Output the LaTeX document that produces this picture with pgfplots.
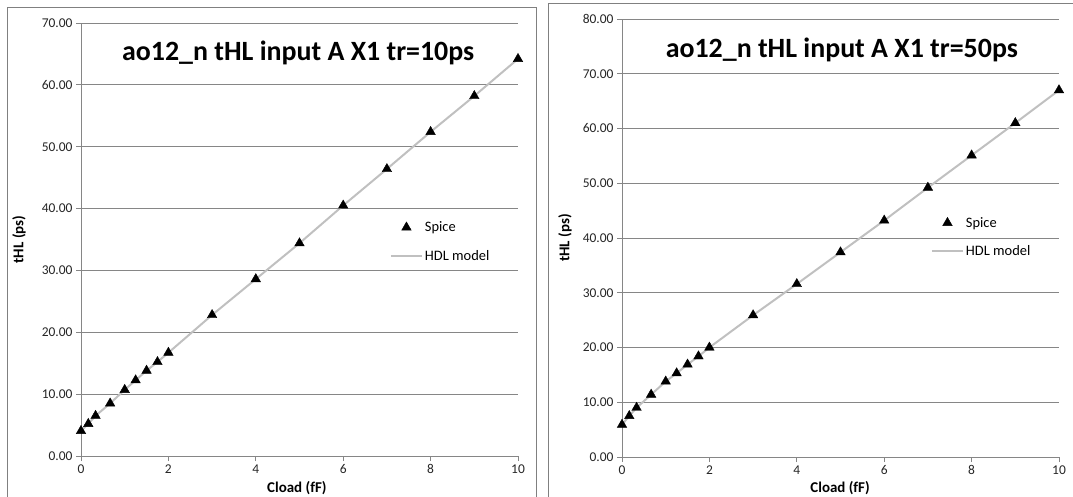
\documentclass[border=0pt]{standalone}
\usepackage{fontspec}
\setmainfont{Carlito}
\usepackage{pgfplots}
\pgfplotsset{compat=1.18}
\pgfplotstableread{
x y
0 4.05
0.1667 5.2
0.3333 6.5
0.6667 8.5
1 10.7
1.25 12.25
1.5 13.8
1.75 15.2
2 16.7
3 22.8
4 28.6
5 34.4
6 40.5
7 46.4
8 52.4
9 58.2
10 64.2
}\dataA
\pgfplotstableread{
x y
0 5.9
0.1667 7.5
0.3333 9.0
0.6667 11.4
1 13.8
1.25 15.3
1.5 16.9
1.75 18.4
2 20.0
3 25.9
4 31.6
5 37.4
6 43.2
7 49.2
8 55.1
9 61.0
10 67.0
}\dataB
\definecolor{gridc}{RGB}{134,134,134}
\definecolor{linec}{RGB}{192,192,192}
\definecolor{framec}{RGB}{128,128,128}
\pgfplotsset{
  spiceleg/.style={legend image code/.code={\path (0bp,0bp) (31bp,0bp); \draw[##1, only marks] plot coordinates {(15.5bp,0bp)};}},
  hdlleg/.style={legend image code/.code={\draw[##1] (0bp,0bp) -- (31bp,0bp);}},
  excel/.style={
    scale only axis,
    anchor=south west,
    xmin=0, xmax=10, ymin=0,
    xtick={0,2,...,10},
    axis x line*=bottom, axis y line*=left,
    axis line style={gridc, line width=0.9bp},
    every tick/.style={gridc, line width=0.9bp},
    tick align=outside, major tick length=5bp,
    ymajorgrids, grid style={gridc, line width=0.9bp},
    tick label style={font=\fontsize{13.5}{15}\selectfont, text=black!85},
    /pgf/number format/assume math mode=true,
    yticklabel style={/pgf/number format/.cd, fixed, fixed zerofill, precision=2},
    xticklabel style={/pgf/number format/.cd, fixed, precision=0},
    xlabel={\textbf{Cload (fF)}},
    ylabel={\textbf{tHL (ps)}},
    label style={font=\fontsize{15}{17}\selectfont},
    legend style={draw=none, fill=none, font=\fontsize{14.5}{16}\selectfont,
      row sep=17bp, anchor=west, inner sep=0pt, outer sep=0pt,
      nodes={inner xsep=2bp, inner ysep=0pt}},
    legend cell align=left,
  }
}
\begin{document}
\begin{tikzpicture}
\path[use as bounding box] (0,0) rectangle (1073bp,497bp);
\draw[framec, line width=1bp] (7bp,-2bp) rectangle (536bp,489bp);
\draw[framec, line width=1bp] (548bp,-2bp) rectangle (1076bp,493bp);
\begin{axis}[excel, at={(81bp,41bp)}, width=437bp, height=433bp, ymax=70, ytick distance=10,
  legend style={at={(0.707,0.495)}},
  xlabel style={at={(axis description cs:0.494,0)}, anchor=center, yshift=-32bp},
  ylabel style={at={(axis description cs:0,0.5)}, anchor=center, yshift=62bp}]
\addlegendimage{black, mark=triangle*, mark size=5.5bp, spiceleg}
\addlegendentry{Spice}
\addlegendimage{linec, line width=2bp, hdlleg}
\addlegendentry{HDL model}
\addplot[linec, line width=2bp, no marks, forget plot] table {\dataA};
\addplot[only marks, mark=triangle*, mark size=5.5bp, black, forget plot] table {\dataA};
\node[font=\bfseries\fontsize{28}{32}\selectfont] at (rel axis cs:0.497,0.931) {ao12\_n tHL input A X1 tr=10ps};
\end{axis}
\begin{axis}[excel, at={(622bp,40bp)}, width=437bp, height=438bp, ymax=80, ytick distance=10,
  legend style={at={(0.707,0.502)}},
  xlabel style={at={(axis description cs:0.499,0)}, anchor=center, yshift=-31bp},
  ylabel style={at={(axis description cs:0,0.5)}, anchor=center, yshift=57bp}]
\addlegendimage{black, mark=triangle*, mark size=5.5bp, spiceleg}
\addlegendentry{Spice}
\addlegendimage{linec, line width=2bp, hdlleg}
\addlegendentry{HDL model}
\addplot[linec, line width=2bp, no marks, forget plot] table {\dataB};
\addplot[only marks, mark=triangle*, mark size=5.5bp, black, forget plot] table {\dataB};
\node[font=\bfseries\fontsize{28}{32}\selectfont] at (rel axis cs:0.503,0.930) {ao12\_n tHL input A X1 tr=50ps};
\end{axis}
\end{tikzpicture}
\end{document}
